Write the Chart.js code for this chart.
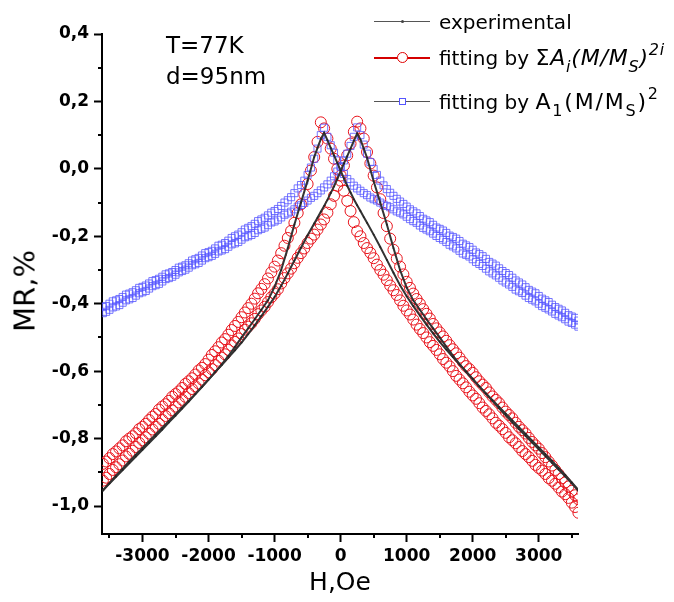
<!DOCTYPE html>
<html>
<head>
<meta charset="utf-8">
<script src="https://cdn.jsdelivr.net/npm/chart.js@4.4.1/dist/chart.umd.min.js"></script>
<style>
html,body{margin:0;padding:0;background:#fff;}
#wrap{position:relative;width:674px;height:602px;overflow:hidden;}
#c{position:absolute;left:0;top:0;}
.txt{position:absolute;font-family:"DejaVu Sans",sans-serif;color:#000;white-space:nowrap;line-height:24px;height:24px;}
.leg{font-size:20px;left:439px;}
.leg .f{font-size:22px;letter-spacing:0.8px;}
.leg .f2{font-size:22px;letter-spacing:1.8px;}
.leg sub,.leg sup{font-size:16px;line-height:0;}
.leg sub{vertical-align:-7px;}
.leg sup{vertical-align:10px;}
.ann{font-size:23px;left:166px;}
.lline{position:absolute;left:374px;width:56px;height:0;}
.mk{position:absolute;box-sizing:border-box;}
#ytitle{position:absolute;left:25px;top:291px;transform:translate(-50%,-50%) rotate(-90deg);font-family:"DejaVu Sans",sans-serif;font-size:29px;line-height:1;white-space:nowrap;color:#000;}
</style>
</head>
<body>
<div id="wrap">
<canvas id="c" width="674" height="602"></canvas>
<div id="ytitle">MR,%</div>
<div class="txt ann" style="top:33px;">T=77K</div>
<div class="txt ann" style="top:64px;">d=95nm</div>

<div class="lline" style="top:21px;border-top:1px solid #555;"></div>
<div class="mk" style="left:401px;top:20px;width:3px;height:3px;background:#444;border-radius:50%;"></div>
<div class="txt leg" style="top:10px;">experimental</div>

<div class="lline" style="top:57px;border-top:2px solid #d40000;"></div>
<div class="mk" style="left:397px;top:52px;width:11px;height:11px;border:1px solid #e00000;border-radius:50%;background:#fff;"></div>
<div class="txt leg" style="top:46px;">fitting by <span class="f">&Sigma;<i>A<sub>i</sub>(M/M<sub>S</sub>)<sup>2i</sup></i></span></div>

<div class="lline" style="top:101px;border-top:1px solid #555;"></div>
<div class="mk" style="left:399px;top:98px;width:7px;height:7px;border:1px solid #5555ff;background:#fff;"></div>
<div class="txt leg" style="top:90px;">fitting by <span class="f2">A<sub>1</sub>(M/M<sub>S</sub>)<sup>2</sup></span></div>
</div>

<script>
// ---- experimental (measured) loop, field in Oe ----
const expFieldOe = [-3600,-3500,-3400,-3300,-3200,-3100,-3000,-2900,-2800,-2700,-2600,-2500,-2400,-2300,-2200,-2100,-2000,-1900,-1800,-1700,-1600,-1500,-1400,-1300,-1200,-1100,-1000,-900,-800,-700,-600,-500,-400,
 -350,-300,-250,-200,-150,-100,-50,0,50,100,150,200,250,300,350,
 400,500,600,700,800,900,1000,1100,1200,1300,1400,1500,1600,1700,1800,1900,2000,2100,2200,2300,2400,2500,2600,2700,2800,2900,3000,3100,3200,3300,3400,3500,3600];
const expPeakNeg = [-0.953,-0.933,-0.913,-0.893,-0.873,-0.853,-0.833,-0.813,-0.793,-0.773,-0.752,-0.732,-0.711,-0.690,-0.668,-0.646,-0.625,-0.603,-0.580,-0.555,-0.528,-0.500,-0.473,-0.446,-0.418,-0.390,-0.350,-0.300,-0.235,-0.165,-0.100,-0.035,0.035,
 0.062,0.088,0.107,0.085,0.062,0.040,0.018,-0.005,-0.028,-0.050,-0.070,-0.090,-0.108,-0.125,-0.143,
 -0.160,-0.195,-0.232,-0.270,-0.308,-0.345,-0.378,-0.407,-0.435,-0.462,-0.488,-0.513,-0.536,-0.558,-0.580,-0.601,-0.623,-0.645,-0.666,-0.686,-0.706,-0.726,-0.746,-0.766,-0.786,-0.806,-0.826,-0.846,-0.866,-0.887,-0.908,-0.930,-0.952];
const expPeakPos = [-0.955,-0.932,-0.910,-0.889,-0.868,-0.848,-0.828,-0.808,-0.788,-0.768,-0.748,-0.728,-0.708,-0.688,-0.668,-0.647,-0.625,-0.603,-0.582,-0.560,-0.538,-0.515,-0.490,-0.464,-0.437,-0.409,-0.380,-0.347,-0.310,-0.272,-0.234,-0.197,-0.162,
 -0.145,-0.127,-0.110,-0.092,-0.072,-0.052,-0.030,-0.007,0.016,0.038,0.060,0.083,0.105,0.087,0.060,
 0.033,-0.037,-0.100,-0.165,-0.235,-0.300,-0.352,-0.390,-0.418,-0.446,-0.473,-0.500,-0.527,-0.554,-0.579,-0.602,-0.624,-0.646,-0.667,-0.688,-0.710,-0.731,-0.752,-0.772,-0.792,-0.812,-0.832,-0.852,-0.872,-0.892,-0.912,-0.933,-0.955];

// ---- fitted points, field in Oe ----
const fitFieldOe = [-3600,-3550,-3500,-3450,-3400,-3350,-3300,-3250,-3200,-3150,-3100,-3050,
 -3000,-2950,-2900,-2850,-2800,-2750,-2700,-2650,-2600,-2550,-2500,-2450,-2400,-2350,-2300,-2250,-2200,-2150,-2100,-2050,
 -2000,-1950,-1900,-1850,-1800,-1750,-1700,-1650,-1600,-1550,-1500,-1450,-1400,-1350,-1300,-1250,-1200,-1150,-1100,-1050,
 -1000,-950,-900,-850,-800,-750,-700,-650,-600,-550,-500,-450,-400,-350,-300,-250,-200,-150,-100,-50,
 0,50,100,150,200,250,300,350,400,450,500,550,600,650,700,750,800,850,900,950,
 1000,1050,1100,1150,1200,1250,1300,1350,1400,1450,1500,1550,1600,1650,1700,1750,1800,1850,1900,1950,
 2000,2050,2100,2150,2200,2250,2300,2350,2400,2450,2500,2550,2600,2650,2700,2750,2800,2850,2900,2950,
 3000,3050,3100,3150,3200,3250,3300,3350,3400,3450,3500,3550,3600];

// fitting by sum A_i (M/Ms)^2i
const fitSumPeakNeg = [-0.875,-0.868,-0.858,-0.846,-0.838,-0.829,-0.820,-0.808,-0.800,-0.793,-0.784,-0.772,
 -0.765,-0.756,-0.745,-0.735,-0.727,-0.714,-0.705,-0.698,-0.688,-0.676,-0.668,-0.660,-0.650,-0.638,-0.630,-0.621,-0.610,-0.598,-0.590,-0.579,
 -0.566,-0.552,-0.541,-0.529,-0.515,-0.505,-0.492,-0.478,-0.466,-0.454,-0.440,-0.426,-0.413,-0.400,-0.385,-0.369,-0.356,-0.342,-0.325,-0.307,
 -0.290,-0.272,-0.250,-0.228,-0.205,-0.184,-0.160,-0.131,-0.105,-0.076,-0.045,-0.005,0.035,0.080,0.138,0.120,0.090,0.060,0.030,0.000,
 -0.035,-0.065,-0.095,-0.125,-0.158,-0.185,-0.200,-0.220,-0.235,-0.249,-0.265,-0.284,-0.300,-0.314,-0.330,-0.346,-0.360,-0.374,-0.390,-0.406,
 -0.420,-0.432,-0.447,-0.462,-0.475,-0.487,-0.500,-0.514,-0.525,-0.537,-0.550,-0.564,-0.575,-0.586,-0.600,-0.614,-0.625,-0.636,-0.648,-0.661,
 -0.672,-0.682,-0.695,-0.708,-0.718,-0.728,-0.740,-0.753,-0.762,-0.772,-0.783,-0.796,-0.805,-0.814,-0.825,-0.837,-0.846,-0.855,-0.866,-0.878,
 -0.887,-0.895,-0.905,-0.917,-0.925,-0.934,-0.945,-0.957,-0.965,-0.976,-0.990,-1.003,-1.020];
const fitSumPeakPos = [-0.925,-0.916,-0.905,-0.893,-0.885,-0.876,-0.865,-0.853,-0.845,-0.836,-0.825,-0.813,
 -0.805,-0.796,-0.785,-0.773,-0.765,-0.756,-0.745,-0.733,-0.725,-0.716,-0.705,-0.693,-0.685,-0.676,-0.665,-0.653,-0.645,-0.636,-0.625,-0.612,
 -0.603,-0.594,-0.582,-0.569,-0.560,-0.550,-0.537,-0.524,-0.513,-0.503,-0.490,-0.477,-0.468,-0.458,-0.445,-0.431,-0.420,-0.409,-0.395,-0.381,
 -0.370,-0.357,-0.340,-0.324,-0.310,-0.296,-0.280,-0.264,-0.250,-0.236,-0.220,-0.207,-0.195,-0.180,-0.165,-0.150,-0.130,-0.105,-0.080,-0.050,
 -0.020,0.010,0.040,0.075,0.110,0.140,0.120,0.090,0.050,0.016,-0.020,-0.055,-0.090,-0.131,-0.170,-0.207,-0.240,-0.266,-0.290,-0.313,
 -0.335,-0.353,-0.370,-0.386,-0.400,-0.416,-0.430,-0.444,-0.460,-0.473,-0.485,-0.497,-0.510,-0.523,-0.535,-0.547,-0.560,-0.573,-0.585,-0.594,
 -0.605,-0.618,-0.630,-0.640,-0.650,-0.663,-0.675,-0.685,-0.695,-0.708,-0.720,-0.730,-0.740,-0.753,-0.765,-0.775,-0.785,-0.798,-0.810,-0.820,
 -0.830,-0.843,-0.855,-0.868,-0.880,-0.893,-0.905,-0.918,-0.930,-0.942,-0.955,-0.968,-0.980];

// fitting by A1 (M/Ms)^2
const fitA1PeakNeg = [-0.410,-0.407,-0.400,-0.393,-0.390,-0.386,-0.380,-0.373,-0.370,-0.366,-0.360,-0.353,
 -0.350,-0.346,-0.340,-0.333,-0.330,-0.326,-0.320,-0.313,-0.310,-0.306,-0.300,-0.293,-0.290,-0.286,-0.280,-0.272,-0.268,-0.264,-0.257,-0.250,
 -0.247,-0.243,-0.236,-0.228,-0.225,-0.220,-0.213,-0.205,-0.200,-0.195,-0.188,-0.180,-0.175,-0.170,-0.163,-0.155,-0.150,-0.145,-0.138,-0.130,
 -0.125,-0.119,-0.110,-0.100,-0.093,-0.084,-0.072,-0.058,-0.048,-0.035,-0.018,0.004,0.030,0.060,0.100,0.122,0.095,0.070,0.048,0.025,
 0.005,-0.015,-0.030,-0.040,-0.050,-0.058,-0.065,-0.072,-0.078,-0.085,-0.090,-0.094,-0.100,-0.106,-0.110,-0.114,-0.120,-0.126,-0.130,-0.135,
 -0.142,-0.149,-0.155,-0.160,-0.168,-0.175,-0.180,-0.185,-0.192,-0.199,-0.205,-0.210,-0.217,-0.225,-0.230,-0.236,-0.243,-0.251,-0.255,-0.260,
 -0.268,-0.276,-0.282,-0.288,-0.296,-0.304,-0.310,-0.316,-0.323,-0.331,-0.337,-0.343,-0.350,-0.358,-0.363,-0.368,-0.376,-0.383,-0.388,-0.393,
 -0.400,-0.407,-0.412,-0.417,-0.423,-0.430,-0.435,-0.440,-0.446,-0.453,-0.457,-0.462,-0.468];
const fitA1PeakPos = [-0.428,-0.424,-0.418,-0.411,-0.408,-0.404,-0.397,-0.390,-0.387,-0.383,-0.376,-0.369,
 -0.366,-0.362,-0.355,-0.348,-0.345,-0.341,-0.334,-0.327,-0.324,-0.320,-0.314,-0.307,-0.303,-0.299,-0.293,-0.286,-0.283,-0.279,-0.272,-0.265,
 -0.262,-0.258,-0.252,-0.245,-0.242,-0.238,-0.231,-0.224,-0.221,-0.217,-0.210,-0.203,-0.200,-0.196,-0.190,-0.182,-0.178,-0.174,-0.167,-0.159,
 -0.156,-0.151,-0.144,-0.136,-0.132,-0.127,-0.120,-0.112,-0.107,-0.101,-0.094,-0.086,-0.080,-0.072,-0.064,-0.055,-0.046,-0.035,-0.022,-0.008,
 0.008,0.025,0.045,0.068,0.095,0.123,0.100,0.072,0.045,0.020,0.000,-0.018,-0.035,-0.049,-0.060,-0.071,-0.080,-0.089,-0.097,-0.104,
 -0.112,-0.120,-0.126,-0.132,-0.140,-0.148,-0.153,-0.158,-0.166,-0.174,-0.178,-0.183,-0.190,-0.198,-0.202,-0.207,-0.214,-0.222,-0.227,-0.232,
 -0.240,-0.248,-0.253,-0.259,-0.267,-0.276,-0.281,-0.287,-0.295,-0.303,-0.309,-0.315,-0.323,-0.331,-0.337,-0.343,-0.351,-0.359,-0.364,-0.369,
 -0.377,-0.385,-0.390,-0.395,-0.403,-0.410,-0.415,-0.420,-0.427,-0.434,-0.438,-0.442,-0.450];

// ---- axis ticks ----
const xTicks = [-3000,-2000,-1000,0,1000,2000,3000];
const xMinorTicks = [-3500,-2500,-1500,-500,500,1500,2500,3500];
const yTicks = [-1.0,-0.8,-0.6,-0.4,-0.2,0.0,0.2,0.4];
const yMinorTicks = [-0.9,-0.7,-0.5,-0.3,-0.1,0.1,0.3];

const pts = (field, arr) => field.map((h, i) => ({x: h, y: arr[i]}));

const minorTicksPlugin = {
  id: 'minorTicks',
  afterDraw(chart) {
    const ctx = chart.ctx, xs = chart.scales.x, ys = chart.scales.y;
    ctx.save();
    ctx.strokeStyle = '#000';
    ctx.lineWidth = 2;
    ctx.beginPath();
    xMinorTicks.forEach(v => {
      const px = Math.round(xs.getPixelForValue(v));
      ctx.moveTo(px, xs.top); ctx.lineTo(px, xs.top + 4);
    });
    yMinorTicks.forEach(v => {
      const py = Math.round(ys.getPixelForValue(v));
      ctx.moveTo(ys.right, py); ctx.lineTo(ys.right - 4, py);
    });
    ctx.stroke();
    ctx.restore();
  }
};

const red = '#e8141c';
const blue = 'rgba(85,85,255,0.8)';
const expStyle = {showLine: true, borderColor: '#333', borderWidth: 2, pointRadius: 0.9, pointBackgroundColor: '#222', pointBorderWidth: 0};
const sqStyle = {showLine: false, pointStyle: 'rect', pointRadius: 5, borderColor: blue, backgroundColor: 'rgba(0,0,0,0)', pointBorderWidth: 1};
const ciStyle = {showLine: false, pointStyle: 'circle', pointRadius: 5.5, borderColor: red, backgroundColor: 'rgba(0,0,0,0)', pointBorderWidth: 1};

new Chart(document.getElementById('c'), {
  type: 'scatter',
  data: {
    datasets: [
      Object.assign({label: 'experimental', data: pts(expFieldOe, expPeakNeg)}, expStyle),
      Object.assign({label: 'experimental', data: pts(expFieldOe, expPeakPos)}, expStyle),
      Object.assign({label: 'fitting by A1(M/MS)^2', data: pts(fitFieldOe, fitA1PeakNeg)}, sqStyle),
      Object.assign({label: 'fitting by A1(M/MS)^2', data: pts(fitFieldOe, fitA1PeakPos)}, sqStyle),
      Object.assign({label: 'fitting by ΣAi(M/MS)^2i', data: pts(fitFieldOe, fitSumPeakNeg)}, ciStyle),
      Object.assign({label: 'fitting by ΣAi(M/MS)^2i', data: pts(fitFieldOe, fitSumPeakPos)}, ciStyle)
    ]
  },
  options: {
    responsive: false,
    animation: false,
    layout: {padding: {left: 0, right: 96, top: 34, bottom: 0}},
    plugins: {legend: {display: false}, tooltip: {enabled: false}},
    scales: {
      x: {
        type: 'linear', min: -3613, max: 3594,
        afterBuildTicks: s => { s.ticks = xTicks.map(v => ({value: v})); },
        afterFit: s => { s.height = 68; },
        grid: {drawOnChartArea: false, drawTicks: true, tickLength: 8, tickWidth: 2, tickColor: '#000'},
        border: {display: true, color: '#000', width: 2},
        ticks: {padding: 4, color: '#000', font: {family: 'DejaVu Sans', size: 17, weight: 'bold'}, maxRotation: 0, callback: v => String(v)},
        title: {display: true, text: 'H,Oe', color: '#000', font: {family: 'DejaVu Sans', size: 25}, padding: {top: 0, bottom: 4}}
      },
      y: {
        type: 'linear', min: -1.083, max: 0.4,
        afterBuildTicks: s => { s.ticks = yTicks.map(v => ({value: v})); },
        afterFit: s => { s.width = 102; },
        grid: {drawOnChartArea: false, drawTicks: true, tickLength: 8, tickWidth: 2, tickColor: '#000'},
        border: {display: true, color: '#000', width: 2},
        ticks: {padding: 5, color: '#000', font: {family: 'DejaVu Sans', size: 17, weight: 'bold'}, callback: v => Number(v).toFixed(1).replace('.', ',')},
        title: {display: false}
      }
    }
  },
  plugins: [minorTicksPlugin]
});
</script>
</body>
</html>
